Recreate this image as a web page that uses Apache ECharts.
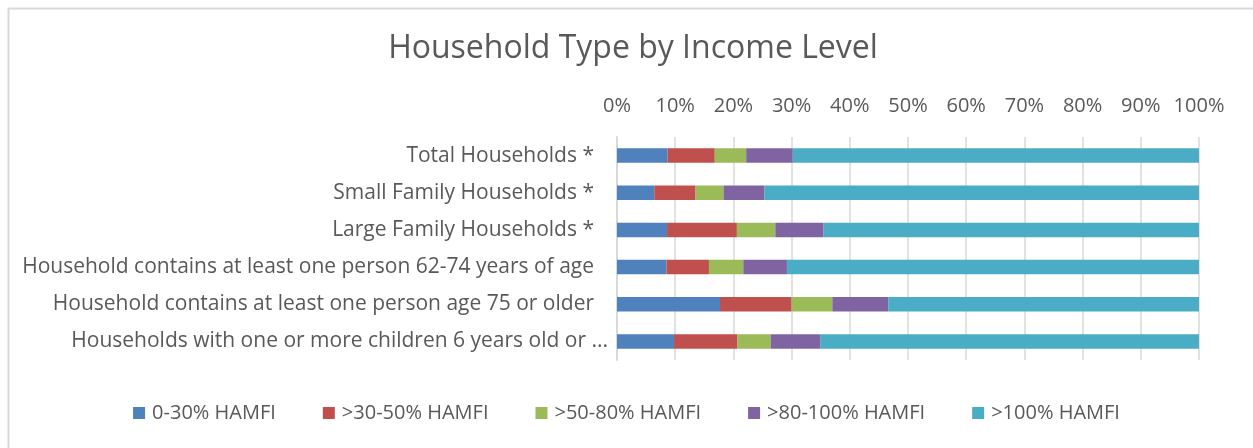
<!DOCTYPE html>
<html>
<head>
<meta charset="utf-8">
<script src="https://cdn.jsdelivr.net/npm/echarts@6/dist/echarts.min.js"></script>
<style>
html,body{margin:0;padding:0;background:#fff;}
#c{width:1253px;height:448px;}
</style>
</head>
<body>
<div id="c"></div>
<script>
var categories = [
  "Total Households *",
  "Small Family Households *",
  "Large Family Households *",
  "Household contains at least one person 62-74 years of age",
  "Household contains at least one person age 75 or older",
  "Households with one or more children 6 years old or younger *"
];
var seriesNames = ["0-30% HAMFI", ">30-50% HAMFI", ">50-80% HAMFI", ">80-100% HAMFI", ">100% HAMFI"];
var v0_30 = [8.7, 6.4, 8.6, 8.5, 17.7, 9.8];
var v30_50 = [8.1, 7.1, 12.0, 7.3, 12.3, 10.9];
var v50_80 = [5.4, 4.8, 6.6, 5.9, 7.0, 5.7];
var v80_100 = [8.0, 7.0, 8.3, 7.5, 9.6, 8.5];
var v100 = [69.8, 74.7, 64.5, 70.8, 53.4, 65.1];
var colors = ["#4F81BD", "#C0504D", "#9BBB59", "#8064A2", "#4BACC6"];
var seriesData = [v0_30, v30_50, v50_80, v80_100, v100];

var FONT = "Open Sans";
var catData = categories.map(function(c, i){
  if (i === categories.length - 1) {
    return {value: c, textStyle: {width: 539, overflow: 'truncate', ellipsis: '...', padding: [0, -14, 0, 0]}};
  }
  return c;
});
var chart = echarts.init(document.getElementById('c'));
chart.setOption({
  animation: false,
  backgroundColor: '#fff',
  textStyle: {fontFamily: FONT},
  graphic: [{
    type: 'rect', left: 6, top: 6, silent: true, z: -10,
    shape: {width: 1400, height: 600},
    style: {fill: 'none', stroke: '#d9d9d9', lineWidth: 2}
  }],
  title: {
    text: 'Household Type by Income Level',
    left: 628, top: 28, textAlign: 'center',
    textStyle: {fontFamily: FONT, fontWeight: 'normal', fontSize: 32, color: '#595959'}
  },
  legend: {
    bottom: 20, left: 'center',
    icon: 'rect', itemWidth: 12, itemHeight: 12, itemGap: 47,
    textStyle: {fontFamily: FONT, fontSize: 20, color: '#595959', padding: [0,0,0,2]},
    data: seriesNames
  },
  grid: {left: 617, right: 54, top: 137, bottom: 88, containLabel: false},
  xAxis: {
    type: 'value', position: 'top', min: 0, max: 100, interval: 10,
    axisLine: {show: false}, axisTick: {show: false},
    axisLabel: {formatter: '{value}%', fontFamily: FONT, fontSize: 20, color: '#595959', margin: 21},
    splitLine: {show: true, lineStyle: {color: '#d9d9d9', width: 1.5}}
  },
  yAxis: {
    type: 'category', inverse: true, data: catData,
    axisLine: {show: true, lineStyle: {color: '#d9d9d9', width: 2}},
    axisTick: {show: false},
    axisLabel: {fontFamily: FONT, fontSize: 21, color: '#595959', margin: 23}
  },
  series: seriesNames.map(function(n, i){
    return {
      name: n, type: 'bar', stack: 'total', barWidth: 14.5,
      itemStyle: {color: colors[i]},
      data: seriesData[i]
    };
  })
});
</script>
</body>
</html>
